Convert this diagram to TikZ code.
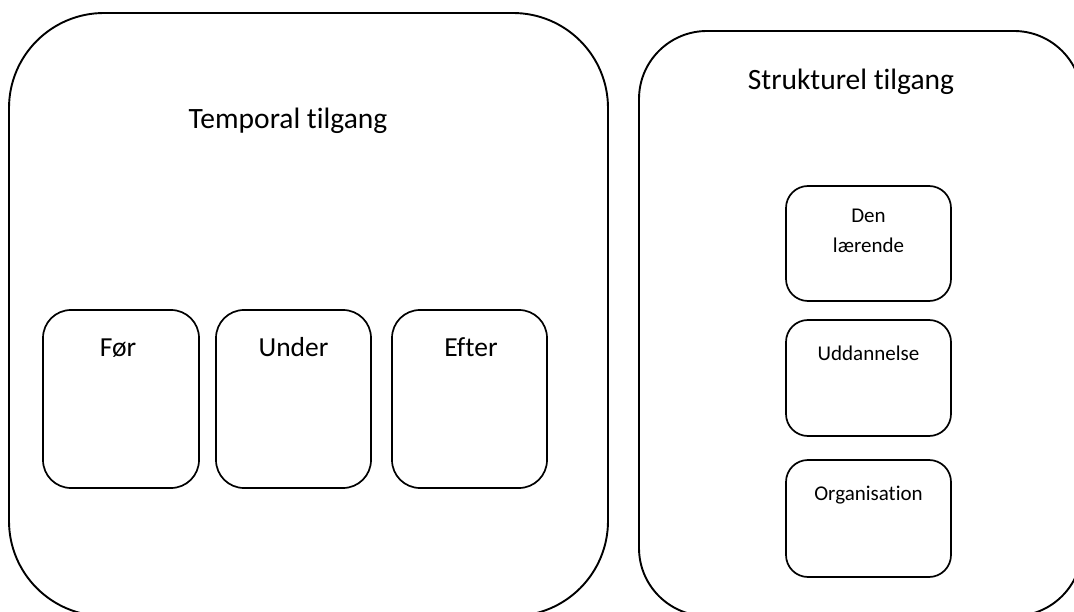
\documentclass[tikz,border=0pt]{standalone}
\usepackage{fontspec}
\setmainfont{Carlito}[Ligatures=NoCommon]
\begin{document}
\begin{tikzpicture}[x=1pt,y=-1pt,
  bigbox/.style={draw=black,line width=1.9pt,inner sep=0pt,outer sep=0pt},
  smallbox/.style={draw=black,line width=1.7pt,inner sep=0pt,outer sep=0pt},
  biglabel/.style={anchor=base,inner sep=0pt,font=\fontsize{29.5}{35}\selectfont},
  midlabel/.style={anchor=base,inner sep=0pt,font=\fontsize{27.5}{33}\selectfont},
  smalllabel/.style={anchor=base,inner sep=0pt,font=\fontsize{21}{30}\selectfont}]
\useasboundingbox (0,0) rectangle (1074,612);
\clip (0,0) rectangle (1074,612);
\fill[white] (0,0) rectangle (1074,612);
% big containers
\node[bigbox,rounded corners=95pt,minimum width=599pt,minimum height=603pt] (temporal) at (308.5,314.5) {};
\node[bigbox,rounded corners=68pt,minimum width=443pt,minimum height=585pt] (struktur) at (860.5,323.5) {};
\node[biglabel] (temporallbl) at (288,129) {Temporal tilgang};
\node[biglabel] (strukturlbl) at (851,90) {Strukturel tilgang};
% temporal boxes
\node[smallbox,rounded corners=28pt,minimum width=156pt,minimum height=178pt] (foer) at (121,399) {};
\node[smallbox,rounded corners=28pt,minimum width=155pt,minimum height=178pt] (under) at (293.5,399) {};
\node[smallbox,rounded corners=28pt,minimum width=155pt,minimum height=178pt] (efter) at (469.5,399) {};
\node[midlabel] (foerlbl) at (118,357) {Før};
\node[midlabel] (underlbl) at (293.5,357) {Under};
\node[midlabel] (efterlbl) at (471,357) {Efter};
% structural boxes
\node[smallbox,rounded corners=22pt,minimum width=165pt,minimum height=115pt] (laerende) at (868.5,243.5) {};
\node[smallbox,rounded corners=22pt,minimum width=165pt,minimum height=116pt] (uddannelse) at (868.5,378) {};
\node[smallbox,rounded corners=22pt,minimum width=165pt,minimum height=117pt] (organisation) at (868.5,518.5) {};
\node[smalllabel] (denlbl) at (868.5,223) {Den};
\node[smalllabel] (laerendelbl) at (868.5,253) {lærende};
\node[smalllabel] (uddlbl) at (868.5,360) {Uddannelse};
\node[smalllabel] (orglbl) at (868.5,500) {Organisation};
\end{tikzpicture}
\end{document}
